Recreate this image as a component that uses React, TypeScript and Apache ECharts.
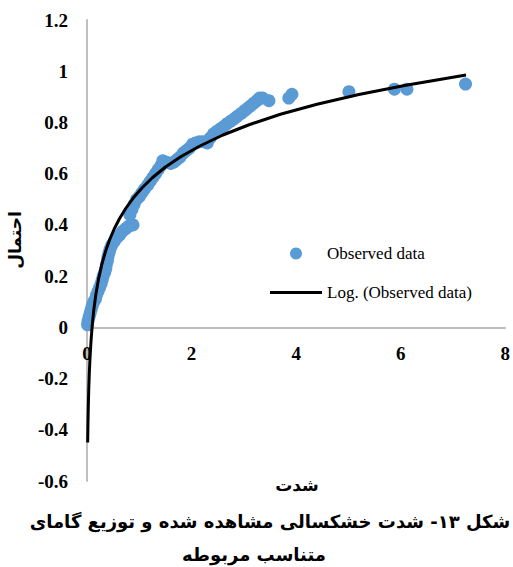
import React, { useEffect, useRef } from "react";
import * as echarts from "echarts";

const xTicks = [0, 2, 4, 6, 8];
const yTicks = [-0.6, -0.4, -0.2, 0, 0.2, 0.4, 0.6, 0.8, 1, 1.2];

const obsX = [
  0.01, 0.02, 0.04, 0.06, 0.08, 0.1, 0.13, 0.16, 0.18, 0.21, 0.24, 0.27, 0.29, 0.31, 0.34, 0.36,
  0.37, 0.39, 0.4, 0.42, 0.44, 0.47, 0.52, 0.57, 0.62, 0.68, 0.74, 0.8, 0.88, 0.82, 0.86, 0.9,
  0.95, 1.0, 1.05, 1.1, 1.16, 1.21, 1.26, 1.31, 1.36, 1.41, 1.45, 1.52, 1.6, 1.66, 1.72, 1.78,
  1.84, 1.9, 1.96, 2.02, 2.08, 2.15, 2.22, 2.3, 2.36, 2.42, 2.48, 2.55, 2.62, 2.68, 2.75, 2.82,
  2.88, 2.95, 3.01, 3.07, 3.13, 3.19, 3.25, 3.3, 3.36, 3.48, 3.86, 3.92, 5.01, 5.88, 6.12, 7.24,
];
const obsY = [
  0.01, 0.025, 0.04, 0.055, 0.07, 0.085, 0.1, 0.11, 0.125, 0.14, 0.155, 0.17, 0.185, 0.2, 0.215, 0.23,
  0.245, 0.26, 0.275, 0.29, 0.305, 0.32, 0.335, 0.35, 0.36, 0.375, 0.385, 0.395, 0.4, 0.44, 0.46, 0.48,
  0.5, 0.51, 0.525, 0.54, 0.555, 0.57, 0.585, 0.6, 0.615, 0.63, 0.65, 0.645, 0.64, 0.645, 0.655, 0.665,
  0.68, 0.69, 0.70, 0.715, 0.72, 0.725, 0.725, 0.72, 0.74, 0.755, 0.765, 0.775, 0.785, 0.795, 0.805, 0.815,
  0.825, 0.835, 0.845, 0.855, 0.865, 0.875, 0.885, 0.895, 0.895, 0.885, 0.895, 0.91, 0.92, 0.93, 0.93, 0.95,
];

const trendX = [
  0.013, 0.017, 0.022, 0.028, 0.035, 0.045, 0.06, 0.08, 0.1, 0.13, 0.17, 0.22, 0.28, 0.35, 0.43, 0.52,
  0.62, 0.74, 0.88, 1.05, 1.25, 1.5, 1.8, 2.15, 2.6, 3.1, 3.7, 4.4, 5.2, 6.1, 7.25,
];
const trendY = [
  -0.45, -0.394, -0.338, -0.283, -0.232, -0.175, -0.109, -0.044, 0.008, 0.068, 0.129, 0.188, 0.243, 0.294, 0.341, 0.384,
  0.424, 0.464, 0.504, 0.544, 0.584, 0.626, 0.667, 0.707, 0.751, 0.791, 0.832, 0.871, 0.909, 0.945, 0.985,
];

const seriesNames = ["Observed data", "Log. (Observed data)"];
const xTitle = "شدت";
const yTitle = "احتمال";
const captionLines = ["شکل ۱۳- شدت خشکسالی مشاهده شده و توزیع گامای", "متناسب مربوطه"];

export default function App() {
  const ref = useRef<HTMLDivElement>(null);
  useEffect(() => {
    if (!ref.current) return;
    const chart = echarts.init(ref.current, null, { renderer: "svg" });
    const serif = "'Liberation Serif', 'Times New Roman', serif";
    const persian = "'DejaVu Sans', 'Noto Sans', sans-serif";
    const gridTop = 20;
    const gridBottom = 86;
    const plotH = 567 - gridTop - gridBottom;
    const yMin = yTicks[0];
    const yMax = yTicks[yTicks.length - 1];
    const zeroOffset = -(plotH * (0 - yMin)) / (yMax - yMin);
    chart.setOption({
      animation: false,
      backgroundColor: "#ffffff",
      grid: { left: 87, right: 6, top: gridTop, bottom: gridBottom, containLabel: false },
      xAxis: {
        type: "value",
        min: xTicks[0],
        max: xTicks[xTicks.length - 1],
        interval: 2,
        offset: zeroOffset,
        axisLine: { show: true, onZero: false, lineStyle: { color: "#BFBFBF", width: 2 } },
        axisTick: { show: false },
        splitLine: { show: false },
        axisLabel: {
          margin: 17,
          fontFamily: serif,
          fontWeight: "bold",
          fontSize: 19,
          color: "#000",
        },
      },
      yAxis: {
        type: "value",
        min: yMin,
        max: yMax,
        interval: 0.2,
        axisLine: { show: true, onZero: false, lineStyle: { color: "#BFBFBF", width: 2 } },
        axisTick: { show: false },
        splitLine: { show: false },
        axisLabel: {
          margin: 19,
          fontFamily: serif,
          fontWeight: "bold",
          fontSize: 19,
          color: "#000",
          formatter: (v: number) => String(Math.round(v * 10) / 10),
        },
      },
      legend: {
        orient: "vertical",
        left: 265,
        top: 240,
        itemWidth: 52,
        itemHeight: 12,
        itemGap: 22,
        textStyle: { fontFamily: serif, fontSize: 17, color: "#000" },
        data: [
          { name: seriesNames[0], icon: "circle" },
          { name: seriesNames[1], icon: "path://M0,0H50V3H0Z" },
        ],
      },
      series: [
        {
          name: seriesNames[0],
          type: "scatter",
          symbol: "circle",
          symbolSize: 13,
          itemStyle: { color: "#5B9BD5", opacity: 1 },
          data: obsX.map((x, i) => [x, obsY[i]]),
          z: 2,
        },
        {
          name: seriesNames[1],
          type: "line",
          showSymbol: false,
          symbol: "none",
          smooth: false,
          lineStyle: { color: "#000", width: 3 },
          itemStyle: { color: "#000" },
          data: trendX.map((x, i) => [x, trendY[i]]),
          z: 3,
        },
      ],
      graphic: [
        {
          type: "text",
          x: 15,
          y: 240,
          rotation: Math.PI / 2,
          style: {
            text: yTitle,
            font: `bold 17px ${persian}`,
            fill: "#000",
            align: "center",
            verticalAlign: "middle",
          },
        },
        {
          type: "text",
          x: 297,
          y: 485,
          style: {
            text: xTitle,
            font: `bold 17px ${persian}`,
            fill: "#000",
            align: "center",
            verticalAlign: "middle",
          },
        },
        {
          type: "text",
          x: 270,
          y: 521,
          style: {
            text: captionLines[0],
            font: `bold 18px ${persian}`,
            fill: "#000",
            align: "center",
            verticalAlign: "middle",
          },
        },
        {
          type: "text",
          x: 254,
          y: 554,
          style: {
            text: captionLines[1],
            font: `bold 18px ${persian}`,
            fill: "#000",
            align: "center",
            verticalAlign: "middle",
          },
        },
      ],
    });
    return () => chart.dispose();
  }, []);
  return (
    <div
      ref={ref}
      style={{ position: "absolute", left: 0, top: 0, width: 513, height: 567 }}
    />
  );
}
